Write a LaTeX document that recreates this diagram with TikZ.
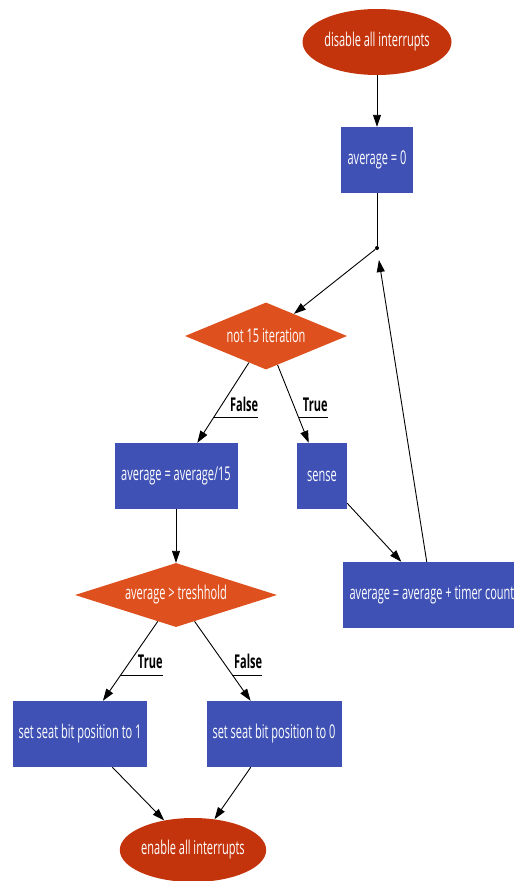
\documentclass[tikz,border=0pt]{standalone}
\usepackage{fontspec}
\setmainfont{Open Sans}[FakeStretch=0.58]
\usetikzlibrary{shapes.geometric}
\usetikzlibrary{arrows.meta}

\definecolor{termred}{HTML}{C4340C}
\definecolor{testorange}{HTML}{DE501E}
\definecolor{stepblue}{HTML}{3F51B5}

\tikzset{
  term/.style={ellipse, fill=termred, text=white, minimum width=148pt, minimum height=66pt, inner sep=0pt},
  test/.style={diamond, fill=testorange, text=white, inner sep=0pt, aspect=2.5},
  stepbox/.style={rectangle, fill=stepblue, text=white, minimum height=66pt, inner sep=0pt},
  flow/.style={draw=black, line width=0.9pt, -{Triangle[length=12pt,width=8pt]}},
  edgelbl/.style={font=\fontsize{19}{22}\selectfont\bfseries, inner sep=0pt, text=black},
}

\begin{document}
\begin{tikzpicture}[x=1pt, y=-1pt, font=\fontsize{19}{22}\selectfont]
\useasboundingbox (0,0) rectangle (514,881);
\node[term] (disable) at (377,42) {disable all interrupts};
\node[stepbox, minimum width=72pt] (avgzero) at (377,160) {average = 0};
\node[circle, fill=black, inner sep=0pt, minimum size=4pt] (join) at (377,248) {};
\node[test, minimum width=162pt, minimum height=67pt] (iter) at (266,336) {not 15 iteration};
\node[stepbox, minimum width=123pt] (avgdiv) at (176,476) {average = average/15};
\node[stepbox, minimum width=50pt] (sense) at (322,476) {sense};
\node[stepbox, minimum width=178pt] (avgadd) at (432,595) {average = average + timer count};
\node[test, minimum width=202pt, minimum height=64pt] (thresh) at (176,595) {average > treshhold};
\node[stepbox, minimum width=134pt] (setone) at (80,734) {set seat bit position to 1};
\node[stepbox, minimum width=135pt] (setzero) at (274,734) {set seat bit position to 0};
\node[term, minimum width=144pt, minimum height=64pt] (enable) at (193,850) {enable all interrupts};

\draw[flow] (disable) -- (avgzero);
\draw[line width=0.9pt] (avgzero) -- (join);
\draw[flow] (join) -- (iter);
\draw[flow] (iter) -- coordinate[pos=0.69] (nofalse) (avgdiv);
\draw[flow] (iter) -- coordinate[pos=0.68] (notrue) (sense);
\draw[flow] (sense) -- (avgadd);
\draw[flow, shorten >=10pt] (avgadd) -- (join);
\draw[flow] (avgdiv) -- (thresh);
\draw[flow] (thresh) -- coordinate[pos=0.675] (gttrue) (setone);
\draw[flow] (thresh) -- coordinate[pos=0.675] (gtfalse) (setzero);
\draw[flow] (setone) -- (enable);
\draw[flow] (setzero) -- (enable);

% edge labels with underline
\node[edgelbl, anchor=south east] (nofalselbl) at ([xshift=45pt, yshift=6pt]nofalse) {False};
\draw[line width=0.9pt] (nofalse) -- (nofalse -| nofalselbl.south east);
\node[edgelbl, anchor=south east] (notruelbl) at ([xshift=29pt, yshift=6pt]notrue) {True};
\draw[line width=0.9pt] (notrue) -- (notrue -| notruelbl.south east);
\node[edgelbl, anchor=south east] (gttruelbl) at ([xshift=42pt, yshift=6pt]gttrue) {True};
\draw[line width=0.9pt] (gttrue) -- (gttrue -| gttruelbl.south east);
\node[edgelbl, anchor=south east] (gtfalselbl) at ([xshift=30pt, yshift=6pt]gtfalse) {False};
\draw[line width=0.9pt] (gtfalse) -- (gtfalse -| gtfalselbl.south east);
\end{tikzpicture}
\end{document}
